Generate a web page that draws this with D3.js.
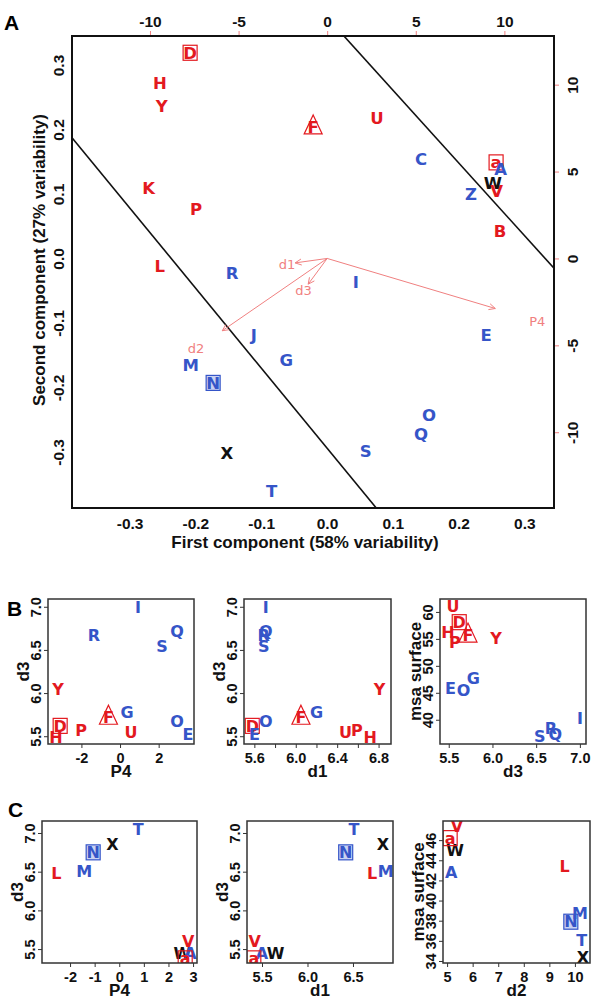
<!DOCTYPE html>
<html>
<head>
<meta charset="utf-8">
<title>Biplot of sites with descriptor scatter panels</title>
<script src="https://d3js.org/d3.v7.min.js"></script>
<style>
    body { margin: 0; background: #fff; }
    svg { display: block; font-family: "Liberation Sans", Arial, sans-serif; }
    .tick-label { font-size: 14.5px; font-weight: bold; fill: #111; }
    .main .tick-label { font-size: 15.5px; }
    .axis-title { font-size: 17px; font-weight: bold; fill: #111; }
    .site { font-family: "DejaVu Sans", sans-serif; font-weight: bold; }
    .loading { font-family: "DejaVu Sans", sans-serif; font-size: 13px; fill: #F08080; }
    .panel-tag { font-size: 21px; font-weight: bold; fill: #000; }
</style>
</head>
<body>
<svg width="600" height="1004"></svg>
<script>
// ---------- data ----------
var redSites = ["D", "H", "Y", "K", "P", "L", "F", "U", "a", "V", "B"];
var blackSites = ["W", "X"];
var boxedSites = ["D", "a", "N"];
var triangleSites = ["F"];

// panel A: site scores on the first two components
var aSites = ["D", "H", "Y", "K", "P", "L", "R", "F", "U", "C", "a", "A", "W", "V", "Z", "B",
              "I", "E", "O", "Q", "S", "J", "G", "M", "N", "X", "T"];
var aPC1 = [-0.208, -0.254, -0.251, -0.271, -0.199, -0.254, -0.144, -0.021, 0.076, 0.143, 0.257, 0.264, 0.252, 0.258, 0.219, 0.263,
            0.044, 0.242, 0.155, 0.143, 0.059, -0.111, -0.062, -0.207, -0.173, -0.152, -0.084];
var aPC2 = [0.319, 0.272, 0.236, 0.109, 0.077, -0.012, -0.022, 0.204, 0.218, 0.154, 0.149, 0.139, 0.117, 0.105, 0.100, 0.043,
            -0.036, -0.119, -0.243, -0.272, -0.298, -0.119, -0.157, -0.165, -0.193, -0.302, -0.360];

// panel A: descriptor loadings (top / right scales)
var loadNames = ["d1", "d2", "d3", "P4"];
var loadX = [-2.26, -7.4, -1.34, 11.86];
var loadY = [-0.32, -5.2, -1.85, -3.6];

// panel A: separating lines, y = intercept + slope * x
var lineIntercept = [0.374, -0.294];
var lineSlope = [-1.128, -1.242];

var aTicks = [-0.3, -0.2, -0.1, 0.0, 0.1, 0.2, 0.3];
var aTopTicks = [-10, -5, 0, 5, 10];
var aRightTicks = [-10, -5, 0, 5, 10];

// panel B sites
var bSites = ["I", "R", "Q", "S", "Y", "F", "G", "D", "P", "U", "O", "E", "H"];
var bP4  = [0.93, -1.35, 2.95, 2.18, -3.21, -0.6, 0.36, -3.1, -2.02, 0.57, 2.95, 3.52, -3.32];
var bD1  = [5.71, 5.69, 5.71, 5.69, 6.81, 6.05, 6.2, 5.58, 6.59, 6.48, 5.71, 5.6, 6.72];
var bD3  = [7.0, 6.67, 6.72, 6.54, 6.04, 5.72, 5.78, 5.62, 5.57, 5.55, 5.67, 5.52, 5.49];
var bMsa = [40.2, 38.4, 37.4, 36.9, 55.1, 55.7, 47.7, 58.1, 54.4, 61.1, 45.4, 45.8, 56.3];

// panel C sites
var cSites = ["T", "X", "N", "L", "M", "V", "W", "A", "a"];
var cP4  = [0.77, -0.28, -1.06, -2.56, -1.42, 2.8, 2.56, 2.89, 2.68];
var cD1  = [6.51, 6.83, 6.42, 6.71, 6.86, 5.42, 5.65, 5.5, 5.41];
var cD2  = [10.27, 10.31, 9.84, 9.6, 10.2, 5.39, 5.31, 5.16, 5.12];
var cD3  = [7.05, 6.86, 6.75, 6.48, 6.5, 5.6, 5.45, 5.45, 5.38];
var cMsa = [36.1, 34.4, 37.9, 43.4, 38.7, 47.4, 45.0, 42.8, 46.2];

// tick values and labels of the small panels
var p4TicksB = [-2, 0, 2];
var d1TicksB = [5.6, 5.8, 6.0, 6.2, 6.4, 6.6, 6.8];
var d1LabelsB = [5.6, 6.0, 6.4, 6.8];
var d3Ticks = [5.5, 6.0, 6.5, 7.0];
var msaTicksB = [40, 45, 50, 55, 60];
var p4TicksC = [-2, -1, 0, 1, 2, 3];
var d1TicksC = [5.5, 6.0, 6.5];
var d2TicksC = [5, 6, 7, 8, 9, 10];
var msaTicksC = [34, 36, 38, 40, 42, 44, 46];

// ---------- drawing ----------
var svg = d3.select("svg");
var RED = "#E3191F", BLUE = "#3555C8", BLACK = "#111", PINK = "#F08080";

function colour(s) {
    if (redSites.indexOf(s) >= 0) return RED;
    if (blackSites.indexOf(s) >= 0) return BLACK;
    return BLUE;
}

var clipId = 0;
function clipTo(g, x0, y0, w, h) {
    var id = "clip" + (clipId++);
    svg.append("clipPath").attr("id", id)
        .append("rect").attr("x", x0).attr("y", y0).attr("width", w).attr("height", h);
    return g.append("g").attr("clip-path", "url(#" + id + ")");
}

function drawSites(g, sites, xs, ys, x, y, size) {
    sites.forEach(function(s, i) {
        var px = x(xs[i]), py = y(ys[i]), c = colour(s);
        if (boxedSites.indexOf(s) >= 0) {
            g.append("rect")
                .attr("x", px - 7).attr("y", py - 7.5)
                .attr("width", 14).attr("height", 15)
                .attr("fill", s === "N" ? "#C9D2F2" : "none")
                .attr("stroke", c).attr("stroke-width", 1.2);
        }
        if (triangleSites.indexOf(s) >= 0) {
            g.append("path")
                .attr("d", "M" + px + "," + (py - 12) + "L" + (px + 9) + "," + (py + 7) + "L" + (px - 9) + "," + (py + 7) + "Z")
                .attr("fill", "none").attr("stroke", c).attr("stroke-width", 1.2);
        }
        g.append("text")
            .attr("class", "site")
            .attr("x", px).attr("y", py).attr("dy", "0.36em")
            .attr("text-anchor", "middle")
            .style("font-size", size + "px")
            .attr("fill", c)
            .text(s);
    });
}

function styleAxis(sel, tickColour) {
    sel.select(".domain").remove();
    sel.selectAll(".tick line").attr("stroke", tickColour).attr("stroke-width", 1);
    sel.attr("font-size", null).attr("font-family", null);
    sel.selectAll(".tick text").attr("class", "tick-label").attr("fill", null);
}

function horizontalLabels(sel, offset) {
    sel.selectAll(".tick text").attr("y", offset).attr("dy", "0.36em");
}

function verticalLabels(sel, offset) {
    sel.selectAll(".tick text")
        .attr("transform", "rotate(-90)")
        .attr("x", 0).attr("y", offset).attr("dy", "0.36em")
        .attr("text-anchor", "middle");
}

// ===== Panel A =====
var A = {left: 72, right: 554, top: 36, bottom: 508};
var ax = d3.scaleLinear().domain([-0.3875, 0.345]).range([A.left, A.right]);
var ay = d3.scaleLinear().domain([-0.387, 0.345]).range([A.bottom, A.top]);
var atop = d3.scaleLinear().domain([-14.4, 12.8]).range([A.left, A.right]);
var aright = d3.scaleLinear().domain([-14.36, 12.8]).range([A.bottom, A.top]);

var gA = svg.append("g").attr("class", "main");
var fmt1 = function(v) { return v.toFixed(1); };
var fmt0 = function(v) { return String(v); };

var axB = gA.append("g").attr("transform", "translate(0," + A.bottom + ")")
    .call(d3.axisBottom(ax).tickValues(aTicks).tickFormat(fmt1).tickSize(0));
styleAxis(axB, BLACK); horizontalLabels(axB, 15);

var axL = gA.append("g").attr("transform", "translate(" + A.left + ",0)")
    .call(d3.axisLeft(ay).tickValues(aTicks).tickFormat(fmt1).tickSize(0));
styleAxis(axL, BLACK); verticalLabels(axL, -14);

var axT = gA.append("g").attr("transform", "translate(0," + A.top + ")")
    .call(d3.axisTop(atop).tickValues(aTopTicks).tickFormat(fmt0).tickSize(5));
styleAxis(axT, PINK); horizontalLabels(axT, -15);

var axR = gA.append("g").attr("transform", "translate(" + A.right + ",0)")
    .call(d3.axisRight(aright).tickValues(aRightTicks).tickFormat(fmt0).tickSize(5));
styleAxis(axR, PINK); verticalLabels(axR, 18);

var plotA = clipTo(gA, A.left, A.top, A.right - A.left, A.bottom - A.top);

// separating lines
lineIntercept.forEach(function(b, i) {
    var xs = ax.domain();
    plotA.append("line")
        .attr("x1", ax(xs[0])).attr("y1", ay(b + lineSlope[i] * xs[0]))
        .attr("x2", ax(xs[1])).attr("y2", ay(b + lineSlope[i] * xs[1]))
        .attr("stroke", BLACK).attr("stroke-width", 1.6);
});

// loading arrows (drawn at 0.8 of the label position)
loadNames.forEach(function(n, i) {
    var x0 = atop(0), y0 = aright(0);
    var x1 = atop(loadX[i] * 0.8), y1 = aright(loadY[i] * 0.8);
    var ang = Math.atan2(y1 - y0, x1 - x0), hl = 7, spread = Math.PI / 7;
    plotA.append("path")
        .attr("d", "M" + x0 + "," + y0 + "L" + x1 + "," + y1 +
            "M" + (x1 - hl * Math.cos(ang - spread)) + "," + (y1 - hl * Math.sin(ang - spread)) +
            "L" + x1 + "," + y1 +
            "L" + (x1 - hl * Math.cos(ang + spread)) + "," + (y1 - hl * Math.sin(ang + spread)))
        .attr("fill", "none").attr("stroke", PINK).attr("stroke-width", 1);
    plotA.append("text")
        .attr("class", "loading")
        .attr("x", atop(loadX[i])).attr("y", aright(loadY[i])).attr("dy", "0.36em")
        .attr("text-anchor", "middle")
        .text(n);
});

drawSites(plotA, aSites, aPC1, aPC2, ax, ay, 16.5);

gA.append("rect")
    .attr("x", A.left).attr("y", A.top)
    .attr("width", A.right - A.left).attr("height", A.bottom - A.top)
    .attr("fill", "none").attr("stroke", BLACK).attr("stroke-width", 2);

gA.append("text").attr("class", "axis-title")
    .attr("x", 305).attr("y", 542).attr("dy", "0.36em").attr("text-anchor", "middle")
    .text("First component (58% variability)");
gA.append("text").attr("class", "axis-title")
    .attr("transform", "translate(39,260) rotate(-90)")
    .attr("dy", "0.36em").attr("text-anchor", "middle")
    .text("Second component (27% variability)");

// ===== small panels =====
function smallPanel(box, xDom, yDom, sites, xs, ys, xTicks, xLabels, xFmt, yTicks, yFmt, xTitle, yTitle) {
    var g = svg.append("g");
    var x = d3.scaleLinear().domain(xDom).range([box.left, box.right]);
    var y = d3.scaleLinear().domain(yDom).range([box.bottom, box.top]);

    var gx = g.append("g").attr("transform", "translate(0," + box.bottom + ")")
        .call(d3.axisBottom(x).tickValues(xTicks).tickSize(4)
            .tickFormat(function(v) {
                return xLabels.some(function(l) { return Math.abs(l - v) < 1e-9; }) ? xFmt(v) : "";
            }));
    styleAxis(gx, "#333"); horizontalLabels(gx, 14);

    var gy = g.append("g").attr("transform", "translate(" + box.left + ",0)")
        .call(d3.axisLeft(y).tickValues(yTicks).tickFormat(yFmt).tickSize(4));
    styleAxis(gy, "#333"); verticalLabels(gy, -12);

    var plot = clipTo(g, box.left, box.top, box.right - box.left, box.bottom - box.top);
    drawSites(plot, sites, xs, ys, x, y, 16);

    g.append("rect")
        .attr("x", box.left).attr("y", box.top)
        .attr("width", box.right - box.left).attr("height", box.bottom - box.top)
        .attr("fill", "none").attr("stroke", "#333").attr("stroke-width", 1.5);

    g.append("text").attr("class", "axis-title")
        .attr("x", (box.left + box.right) / 2).attr("y", box.bottom + 27).attr("dy", "0.36em")
        .attr("text-anchor", "middle").text(xTitle);
    g.append("text").attr("class", "axis-title")
        .attr("transform", "translate(" + (box.left - 25) + "," + ((box.top + box.bottom) / 2) + ") rotate(-90)")
        .attr("dy", "0.36em").attr("text-anchor", "middle").text(yTitle);
}

var yB = {top: 599, bottom: 744};
var yC = {top: 821, bottom: 963};

smallPanel({left: 48, right: 194, top: yB.top, bottom: yB.bottom}, [-3.73, 3.83], [5.41, 7.09],
    bSites, bP4, bD3, p4TicksB, p4TicksB, fmt0, d3Ticks, fmt1, "P4", "d3");
smallPanel({left: 244, right: 391, top: yB.top, bottom: yB.bottom}, [5.50, 6.92], [5.41, 7.09],
    bSites, bD1, bD3, d1TicksB, d1LabelsB, fmt1, d3Ticks, fmt1, "d1", "d3");
smallPanel({left: 440, right: 586, top: yB.top, bottom: yB.bottom}, [5.40, 7.07], [35.5, 62.4],
    bSites, bD3, bMsa, d3Ticks, d3Ticks, fmt1, msaTicksB, fmt0, "d3", "msa surface");

smallPanel({left: 42, right: 197, top: yC.top, bottom: yC.bottom}, [-3.14, 3.16], [5.32, 7.155],
    cSites, cP4, cD3, p4TicksC, p4TicksC, fmt0, d3Ticks, fmt1, "P4", "d3");
smallPanel({left: 247, right: 393, top: yC.top, bottom: yC.bottom}, [5.335, 6.94], [5.32, 7.155],
    cSites, cD1, cD3, d1TicksC, d1TicksC, fmt1, d3Ticks, fmt1, "d1", "d3");
smallPanel({left: 443, right: 590, top: yC.top, bottom: yC.bottom}, [4.84, 10.59], [33.8, 47.9],
    cSites, cD2, cMsa, d2TicksC, d2TicksC, fmt0, msaTicksC, fmt0, "d2", "msa surface");

// panel tags
svg.append("text").attr("class", "panel-tag").attr("x", 4).attr("y", 30).text("A");
svg.append("text").attr("class", "panel-tag").attr("x", 7).attr("y", 616).text("B");
svg.append("text").attr("class", "panel-tag").attr("x", 8).attr("y", 817).text("C");
</script>
</body>
</html>
